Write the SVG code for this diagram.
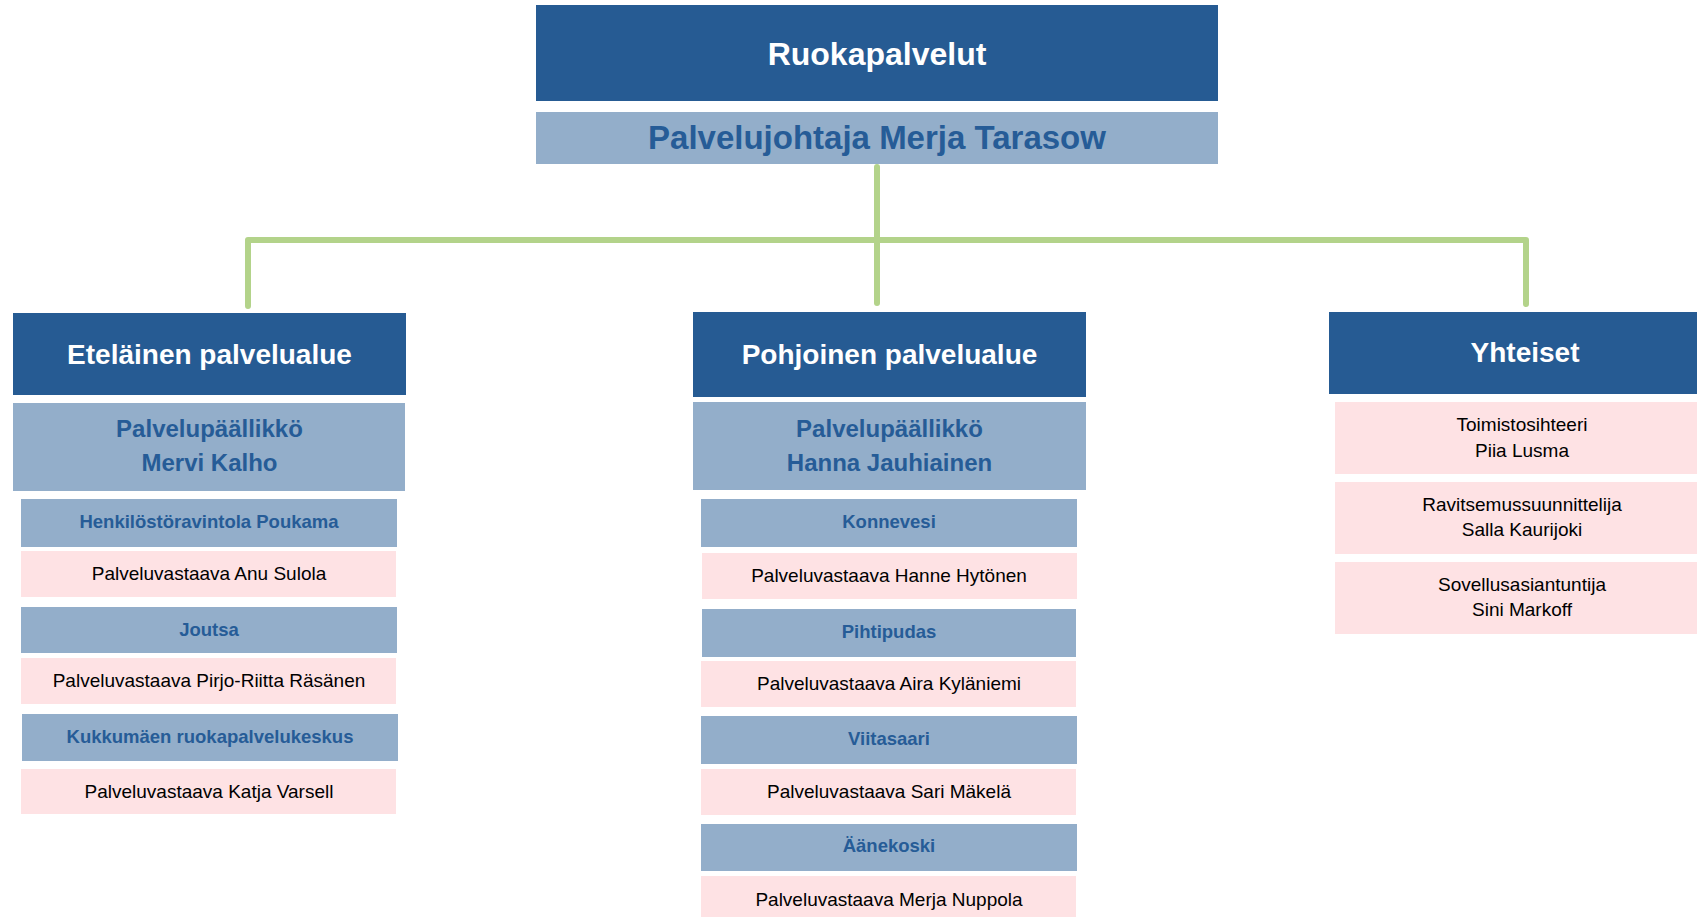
<svg xmlns="http://www.w3.org/2000/svg" width="1697" height="917" viewBox="0 0 1697 917">
<style>
.dark{fill:#265B93}
.light{fill:#93AECA}
.pink{fill:#FEE2E4}
text{font-family:"Liberation Sans",Arial,sans-serif;text-anchor:middle}
.t1{fill:#FFFFFF;font-weight:bold;font-size:32px}
.t2{fill:#FFFFFF;font-weight:bold;font-size:28px}
.tb{fill:#265C97;font-weight:bold}
.tb32{font-size:33px}
.tb24{font-size:24px}
.tb18{font-size:18.5px}
.tp{fill:#000000;font-size:19px}
.conn{fill:none;stroke:#B3D38A;stroke-width:6;stroke-linecap:round;stroke-linejoin:round}
</style>
<rect width="1697" height="917" fill="#FFFFFF"/>
<g id="connectors">
<path class="conn" d="M877,167 V303"/>
<path class="conn" d="M248,306 V240 H1526 V304"/>
</g>
<g id="ruokapalvelut">
<rect class="dark" x="536" y="5" width="682" height="96"/>
<text class="t1" x="877" y="65">Ruokapalvelut</text>
</g>
<g id="palvelujohtaja">
<rect class="light" x="536" y="112" width="682" height="52"/>
<text class="tb tb32" x="877" y="149">Palvelujohtaja Merja Tarasow</text>
</g>
<g id="etelainen">
<rect class="dark" x="13" y="313" width="393" height="82"/>
<text class="t2" x="209.5" y="364">Eteläinen palvelualue</text>
</g>
<g id="etelainen-paallikko">
<rect class="light" x="13" y="403" width="392" height="88"/>
<text class="tb tb24" x="209.5" y="437">Palvelupäällikkö</text>
<text class="tb tb24" x="209.5" y="471">Mervi Kalho</text>
</g>
<g id="poukama">
<rect class="light" x="21" y="499" width="376" height="48"/>
<text class="tb tb18" x="209" y="528">Henkilöstöravintola Poukama</text>
</g>
<g id="sulola">
<rect class="pink" x="21" y="551" width="375" height="46"/>
<text class="tp" x="209" y="580">Palveluvastaava Anu Sulola</text>
</g>
<g id="joutsa">
<rect class="light" x="21" y="607" width="376" height="46"/>
<text class="tb tb18" x="209" y="636">Joutsa</text>
</g>
<g id="rasanen">
<rect class="pink" x="21" y="658" width="375" height="46"/>
<text class="tp" x="209" y="687">Palveluvastaava Pirjo-Riitta Räsänen</text>
</g>
<g id="kukkumaki">
<rect class="light" x="22" y="714" width="376" height="47"/>
<text class="tb tb18" x="210" y="743">Kukkumäen ruokapalvelukeskus</text>
</g>
<g id="varsell">
<rect class="pink" x="21" y="769" width="375" height="45"/>
<text class="tp" x="209" y="798">Palveluvastaava Katja Varsell</text>
</g>
<g id="pohjoinen">
<rect class="dark" x="693" y="312" width="393" height="85"/>
<text class="t2" x="889.5" y="364">Pohjoinen palvelualue</text>
</g>
<g id="pohjoinen-paallikko">
<rect class="light" x="693" y="402" width="393" height="88"/>
<text class="tb tb24" x="889.5" y="437">Palvelupäällikkö</text>
<text class="tb tb24" x="889.5" y="471">Hanna Jauhiainen</text>
</g>
<g id="konnevesi">
<rect class="light" x="701" y="499" width="376" height="48"/>
<text class="tb tb18" x="889" y="528">Konnevesi</text>
</g>
<g id="hytonen">
<rect class="pink" x="702" y="553" width="375" height="46"/>
<text class="tp" x="889" y="582">Palveluvastaava Hanne Hytönen</text>
</g>
<g id="pihtipudas">
<rect class="light" x="702" y="609" width="374" height="48"/>
<text class="tb tb18" x="889" y="638">Pihtipudas</text>
</g>
<g id="kylaniemi">
<rect class="pink" x="701" y="661" width="375" height="46"/>
<text class="tp" x="889" y="690">Palveluvastaava Aira Kyläniemi</text>
</g>
<g id="viitasaari">
<rect class="light" x="701" y="716" width="376" height="48"/>
<text class="tb tb18" x="889" y="745">Viitasaari</text>
</g>
<g id="makela">
<rect class="pink" x="701" y="769" width="375" height="46"/>
<text class="tp" x="889" y="798">Palveluvastaava Sari Mäkelä</text>
</g>
<g id="aanekoski">
<rect class="light" x="701" y="824" width="376" height="47"/>
<text class="tb tb18" x="889" y="852">Äänekoski</text>
</g>
<g id="nuppola">
<rect class="pink" x="701" y="876" width="375" height="41"/>
<text class="tp" x="889" y="906">Palveluvastaava Merja Nuppola</text>
</g>
<g id="yhteiset">
<rect class="dark" x="1329" y="312" width="368" height="82"/>
<text class="t2" x="1525" y="362">Yhteiset</text>
</g>
<g id="lusma">
<rect class="pink" x="1335" y="402" width="362" height="72"/>
<text class="tp" x="1522" y="431">Toimistosihteeri</text>
<text class="tp" x="1522" y="457">Piia Lusma</text>
</g>
<g id="kaurijoki">
<rect class="pink" x="1335" y="482" width="362" height="72"/>
<text class="tp" x="1522" y="511">Ravitsemussuunnittelija</text>
<text class="tp" x="1522" y="536">Salla Kaurijoki</text>
</g>
<g id="markoff">
<rect class="pink" x="1335" y="562" width="362" height="72"/>
<text class="tp" x="1522" y="591">Sovellusasiantuntija</text>
<text class="tp" x="1522" y="616">Sini Markoff</text>
</g>
</svg>
